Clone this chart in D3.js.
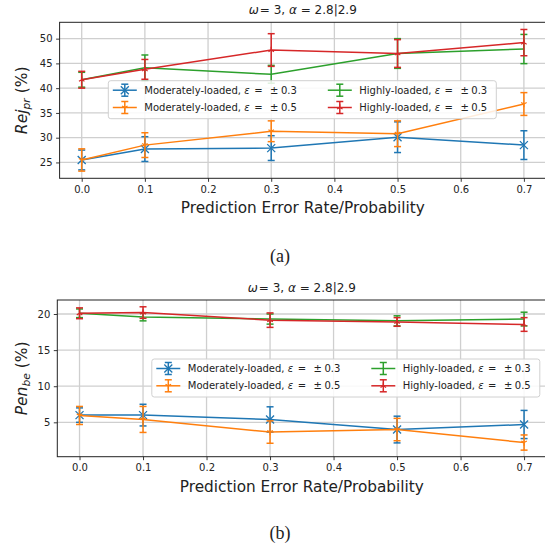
<!DOCTYPE html>
<html>
<head>
<meta charset="utf-8">
<script src="https://cdn.jsdelivr.net/npm/d3@7"></script>
<style>
  html, body { margin: 0; padding: 0; background: #fff; }
  svg { display: block; }
  text { font-family: "DejaVu Sans", sans-serif; fill: #222; }
</style>
</head>
<body>
<svg id="chart" width="545" height="548"></svg>
<script>
// Prediction error rates on the x axis
const errorRates = [0, 0.1, 0.3, 0.5, 0.7];
const xTicks = [0, 0.1, 0.2, 0.3, 0.4, 0.5, 0.6, 0.7];

// Series labels and colours
const seriesNames = ["Moderately-loaded", "Moderately-loaded", "Highly-loaded", "Highly-loaded"];
const seriesEps = ["0.3", "0.5", "0.3", "0.5"];
const seriesColors = ["#1f77b4", "#ff7f0e", "#2ca02c", "#d62728"];
const seriesMarkers = ["x", "tri_down", "none", "tri_up"];

// Panel (a): rejection rate Rej_pr (%) — means and error half-widths
const rejModerate03 = [25.5, 27.7, 27.9, 30.1, 28.5];
const rejModerate03Err = [2.0, 2.5, 2.5, 3.1, 2.9];
const rejModerate05 = [25.5, 28.5, 31.3, 30.8, 36.8];
const rejModerate05Err = [2.25, 2.5, 2.1, 2.6, 2.3];
const rejHigh03 = [41.7, 44.1, 42.8, 47.0, 47.9];
const rejHigh03Err = [1.5, 2.6, 1.8, 3.0, 2.95];
const rejHigh05 = [41.7, 43.8, 47.7, 47.0, 49.2];
const rejHigh05Err = [1.7, 2.0, 3.3, 2.8, 2.65];
const rejTicks = [25, 30, 35, 40, 45, 50];

// Panel (b): penalty Pen_be (%) — means and error half-widths
const penModerate03 = [6.0, 6.0, 5.4, 4.0, 4.7];
const penModerate03Err = [1.0, 1.5, 1.75, 1.85, 1.95];
const penModerate05 = [5.95, 5.4, 3.65, 4.0, 2.2];
const penModerate05Err = [1.25, 1.8, 1.55, 1.55, 1.05];
const penHigh03 = [20.1, 19.6, 19.3, 19.05, 19.3];
const penHigh03Err = [0.6, 0.55, 0.7, 0.7, 0.95];
const penHigh05 = [20.1, 20.2, 19.15, 18.9, 18.55];
const penHigh05Err = [0.75, 0.8, 1.0, 0.6, 0.95];
const penTicks = [5, 10, 15, 20];

const svg = d3.select("#chart");

function drawMarker(g, type, cx, cy, color) {
  const r = 4;
  if (type === "x") {
    g.append("path")
      .attr("d", `M${cx - r},${cy - r}L${cx + r},${cy + r}M${cx - r},${cy + r}L${cx + r},${cy - r}`)
      .attr("stroke", color).attr("stroke-width", 1.3).attr("fill", "none");
  } else if (type === "tri_down" || type === "tri_up") {
    const s = type === "tri_down" ? 1 : -1;
    const a = 3.2;
    g.append("path")
      .attr("d", `M${cx},${cy}L${cx},${cy + s * a}M${cx},${cy}L${cx - a * 0.87},${cy - s * a * 0.5}M${cx},${cy}L${cx + a * 0.87},${cy - s * a * 0.5}`)
      .attr("stroke", color).attr("stroke-width", 1.2).attr("fill", "none");
  }
}

function drawErrorBar(g, cx, yTop, yBot, color) {
  const cap = 3.5;
  g.append("line").attr("x1", cx).attr("x2", cx).attr("y1", yTop).attr("y2", yBot)
    .attr("stroke", color).attr("stroke-width", 1.5);
  [yTop, yBot].forEach(y => {
    g.append("line").attr("x1", cx - cap).attr("x2", cx + cap).attr("y1", y).attr("y2", y)
      .attr("stroke", color).attr("stroke-width", 1.5);
  });
}

function drawPanel(cfg) {
  const { left, right, top, bottom, yDomain, yTicks, series, errs, yMain, ySub, caption, captionY, legend } = cfg;
  const g = svg.append("g");

  const x = d3.scaleLinear().domain([-0.035, 0.735]).range([left, right]);
  const y = d3.scaleLinear().domain(yDomain).range([bottom, top]);

  // grid
  const grid = g.append("g");
  xTicks.forEach(t => grid.append("line")
    .attr("x1", x(t)).attr("x2", x(t)).attr("y1", top).attr("y2", bottom)
    .attr("stroke", "#cfcfcf").attr("stroke-width", 1.3));
  yTicks.forEach(t => grid.append("line")
    .attr("x1", left).attr("x2", right).attr("y1", y(t)).attr("y2", y(t))
    .attr("stroke", "#cfcfcf").attr("stroke-width", 1.3));

  // axes
  const xAxis = g.append("g").attr("transform", `translate(0,${bottom})`)
    .call(d3.axisBottom(x).tickValues(xTicks).tickFormat(d3.format(".1f")).tickSize(3.5).tickPadding(4));
  const yAxis = g.append("g").attr("transform", `translate(${left},0)`)
    .call(d3.axisLeft(y).tickValues(yTicks).tickFormat(d3.format("d")).tickSize(3.5).tickPadding(3.5));
  [xAxis, yAxis].forEach(a => {
    a.select(".domain").remove();
    a.selectAll(".tick line").attr("stroke", "#222").attr("stroke-width", 0.9);
    a.selectAll(".tick text").attr("font-size", "10px").attr("fill", "#222")
      .attr("font-family", "DejaVu Sans, sans-serif");
  });

  // series lines, error bars and markers
  const line = d3.line().x((d, i) => x(errorRates[i])).y(d => y(d));
  series.forEach((vals, si) => {
    const sg = g.append("g");
    const color = seriesColors[si];
    sg.append("path").datum(vals).attr("d", line)
      .attr("fill", "none").attr("stroke", color).attr("stroke-width", 1.5);
    vals.forEach((v, i) => {
      drawErrorBar(sg, x(errorRates[i]), y(v + errs[si][i]), y(v - errs[si][i]), color);
      drawMarker(sg, seriesMarkers[si], x(errorRates[i]), y(v), color);
    });
  });

  // frame
  g.append("rect").attr("x", left).attr("y", top).attr("width", right - left).attr("height", bottom - top)
    .attr("fill", "none").attr("stroke", "#222").attr("stroke-width", 1);

  // title
  const cx = (left + right) / 2;
  const title = g.append("text").attr("x", cx).attr("y", top - 8).attr("text-anchor", "middle")
    .attr("font-size", "12px");
  title.append("tspan").attr("font-style", "italic").text("ω");
  title.append("tspan").attr("dx", 1).text("= 3, ");
  title.append("tspan").attr("font-style", "italic").text("α");
  title.append("tspan").text(" = 2.8|2.9");

  // x label
  g.append("text").attr("x", cx).attr("y", bottom + 35).attr("text-anchor", "middle")
    .attr("font-size", "15.3px").text("Prediction Error Rate/Probability");

  // y label
  const yl = g.append("text").attr("transform", `translate(27,${(top + bottom) / 2}) rotate(-90)`)
    .attr("text-anchor", "middle").attr("font-size", "15.5px");
  yl.append("tspan").attr("font-style", "italic").text(yMain);
  yl.append("tspan").attr("font-style", "italic").attr("font-size", "10.8px").attr("dy", 3).text(ySub);
  yl.append("tspan").attr("dy", -3).text(" (%)");

  // legend
  const lg = g.append("g").attr("transform", `translate(${legend.x},${legend.y})`);
  lg.append("rect").attr("x", 0).attr("y", 0).attr("width", 388).attr("height", 38)
    .attr("rx", 2.5).attr("fill", "#fff").attr("fill-opacity", 0.85)
    .attr("stroke", "#d0d0d0").attr("stroke-width", 1);
  const order = [0, 1, 2, 3];
  order.forEach(si => {
    const col = si < 2 ? 0 : 1;
    const row = si % 2;
    const hx = col === 0 ? 4.5 : 219.5;
    const hy = row === 0 ? 9.5 : 26.8;
    const color = seriesColors[si];
    lg.append("line").attr("x1", hx).attr("x2", hx + 24).attr("y1", hy).attr("y2", hy)
      .attr("stroke", color).attr("stroke-width", 1.5);
    drawErrorBar(lg, hx + 12, hy - 6, hy + 6, color);
    drawMarker(lg, seriesMarkers[si], hx + 12, hy, color);
    const t = lg.append("text").attr("x", hx + 31.5).attr("y", hy + 3.6).attr("font-size", "10px");
    t.append("tspan").text(seriesNames[si] + ", ");
    t.append("tspan").attr("font-style", "italic").text("ε");
    t.append("tspan").attr("dx", 4.5).text("=");
    t.append("tspan").attr("dx", 7.5).text("±");
    t.append("tspan").attr("dx", 2.5).text(seriesEps[si]);
  });

  // caption
  svg.append("text").attr("x", 280).attr("y", captionY).attr("text-anchor", "middle")
    .attr("font-size", "18px")
    .style("font-family", "Liberation Serif, serif").text(caption);
}

drawPanel({
  left: 59.6, right: 546, top: 22.3, bottom: 178.3,
  yDomain: [21.8, 53.3], yTicks: rejTicks,
  series: [rejModerate03, rejModerate05, rejHigh03, rejHigh05],
  errs: [rejModerate03Err, rejModerate05Err, rejHigh03Err, rejHigh05Err],
  yMain: "Rej", ySub: "pr",
  caption: "(a)", captionY: 262,
  legend: { x: 108.3, y: 80.7 }
});

drawPanel({
  left: 57.3, right: 546.3, top: 300, bottom: 456.7,
  yDomain: [0.24, 21.94], yTicks: penTicks,
  series: [penModerate03, penModerate05, penHigh03, penHigh05],
  errs: [penModerate03Err, penModerate05Err, penHigh03Err, penHigh05Err],
  yMain: "Pen", ySub: "be",
  caption: "(b)", captionY: 539,
  legend: { x: 151.8, y: 359 }
});
</script>
</body>
</html>
